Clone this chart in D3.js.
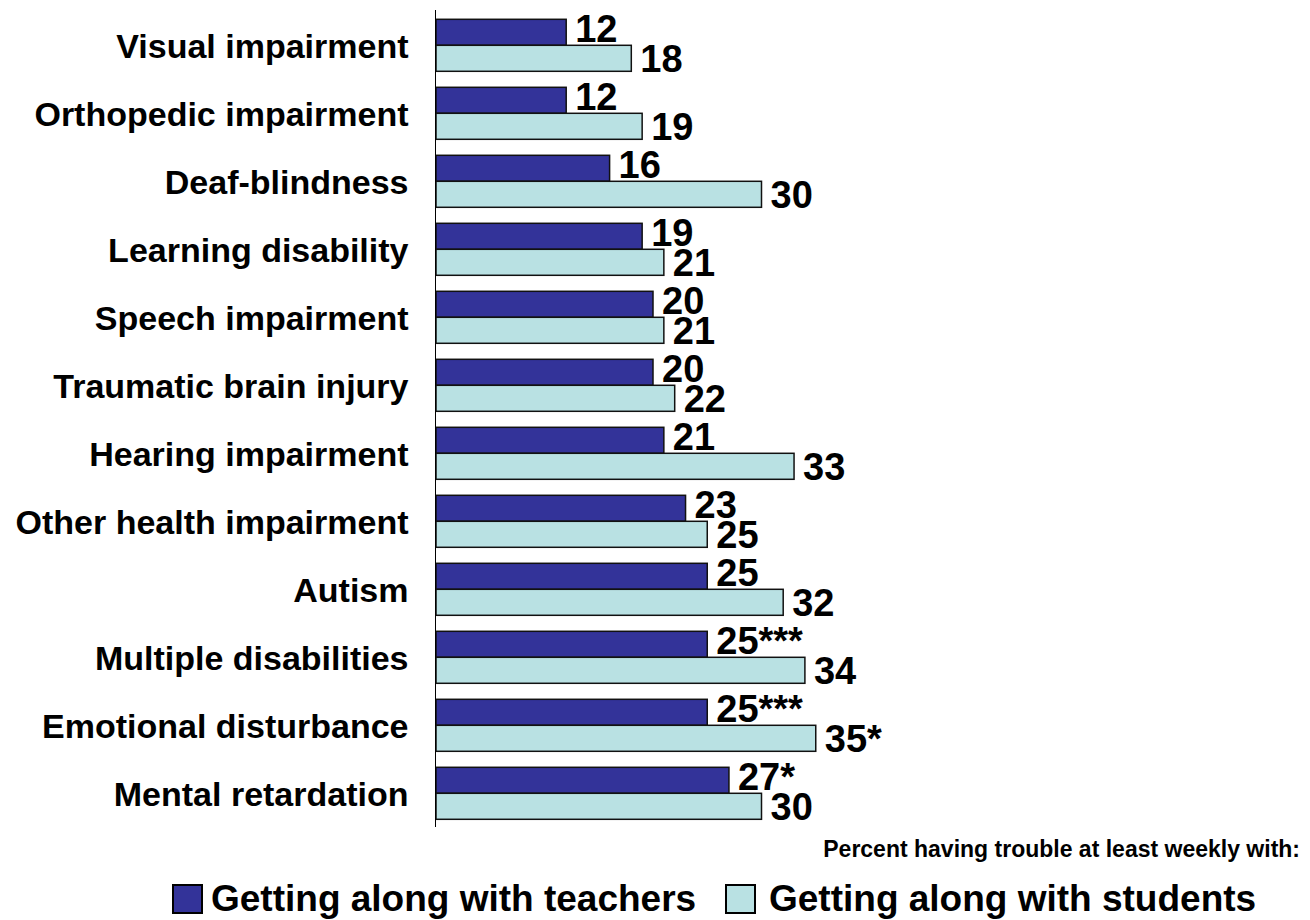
<!DOCTYPE html>
<html>
<head>
<meta charset="utf-8">
<script src="https://cdn.jsdelivr.net/npm/d3@7"></script>
<style>
  html, body { margin: 0; padding: 0; background: #fff; }
  svg { display: block; }
  text { font-family: "Liberation Sans", Arial, Helvetica, sans-serif; font-weight: bold; fill: #000; }
</style>
</head>
<body>
<svg id="chart" width="1310" height="920"></svg>
<script>
const categories = [
  "Visual impairment", "Orthopedic impairment", "Deaf-blindness", "Learning disability",
  "Speech impairment", "Traumatic brain injury", "Hearing impairment", "Other health impairment",
  "Autism", "Multiple disabilities", "Emotional disturbance", "Mental retardation"
];
const seriesNames = ["Getting along with teachers", "Getting along with students"];
const teachers = [12, 12, 16, 19, 20, 20, 21, 23, 25, 25, 25, 27];
const students = [18, 19, 30, 21, 21, 22, 33, 25, 32, 34, 35, 30];
const teacherSig = ["", "", "", "", "", "", "", "", "", "***", "***", "*"];
const studentSig = ["", "", "", "", "", "", "", "", "", "", "*", ""];
const axisTitle = "Percent having trouble at least weekly with:";

const colors = ["#333399", "#b9e1e3"];

const svg = d3.select("#chart");

const y = d3.scaleBand()
  .domain(categories)
  .range([11.3, 827.3])
  .paddingInner(16 / 68)
  .paddingOuter(8 / 68);

const ySub = d3.scaleBand()
  .domain([0, 1])
  .range([0, y.bandwidth()])
  .padding(0);

const x = d3.scaleLinear().domain([0, 35]).range([436, 815.75]);

const rows = categories.map((c, i) => ({
  cat: c,
  vals: [
    { s: 0, v: teachers[i], label: teachers[i] + teacherSig[i] },
    { s: 1, v: students[i], label: students[i] + studentSig[i] }
  ]
}));

const g = svg.selectAll("g.row").data(rows).join("g")
  .attr("class", "row")
  .attr("transform", d => `translate(0,${y(d.cat)})`);

g.selectAll("rect").data(d => d.vals).join("rect")
  .attr("x", x(0))
  .attr("y", d => ySub(d.s))
  .attr("width", d => x(d.v) - x(0))
  .attr("height", ySub.bandwidth())
  .attr("fill", d => colors[d.s])
  .attr("stroke", "#111")
  .attr("stroke-width", 1.5);

const labelShift = [-4, 0];
g.selectAll("text.val").data(d => d.vals).join("text")
  .attr("class", "val")
  .attr("x", d => x(d.v) + 9)
  .attr("y", d => ySub(d.s) + ySub.bandwidth() / 2 + labelShift[d.s] + 13.6)
  .attr("font-size", 38)
  .text(d => d.label);

// category axis
const yAxis = d3.axisLeft(y).tickSize(0).tickPadding(27);
const ax = svg.append("g")
  .attr("transform", `translate(${x(0) - 0.5},0)`)
  .call(yAxis);
ax.select(".domain").remove();
ax.selectAll("text")
  .attr("font-size", 34)
  .attr("font-family", '"Liberation Sans", Arial, sans-serif')
  .attr("font-weight", "bold")
  .attr("fill", "#000")
  .attr("dy", "0.37em");

svg.append("line")
  .attr("x1", x(0) - 0.5).attr("x2", x(0) - 0.5)
  .attr("y1", 10).attr("y2", 827)
  .attr("stroke", "#000").attr("stroke-width", 1);

svg.append("text")
  .attr("x", 1300).attr("y", 857)
  .attr("text-anchor", "end")
  .attr("font-size", 23)
  .text(axisTitle);

// legend
const legendSwatchX = [173, 726];
const legendTextX = [211, 769];
const lg = svg.selectAll("g.leg").data(seriesNames).join("g")
  .attr("class", "leg");
lg.append("rect")
  .attr("x", (d, i) => legendSwatchX[i])
  .attr("y", 885)
  .attr("width", 29).attr("height", 28)
  .attr("fill", (d, i) => colors[i])
  .attr("stroke", "#000").attr("stroke-width", 2);
lg.append("text")
  .attr("x", (d, i) => legendTextX[i])
  .attr("y", 911)
  .attr("font-size", 37)
  .text(d => d);
</script>
</body>
</html>
